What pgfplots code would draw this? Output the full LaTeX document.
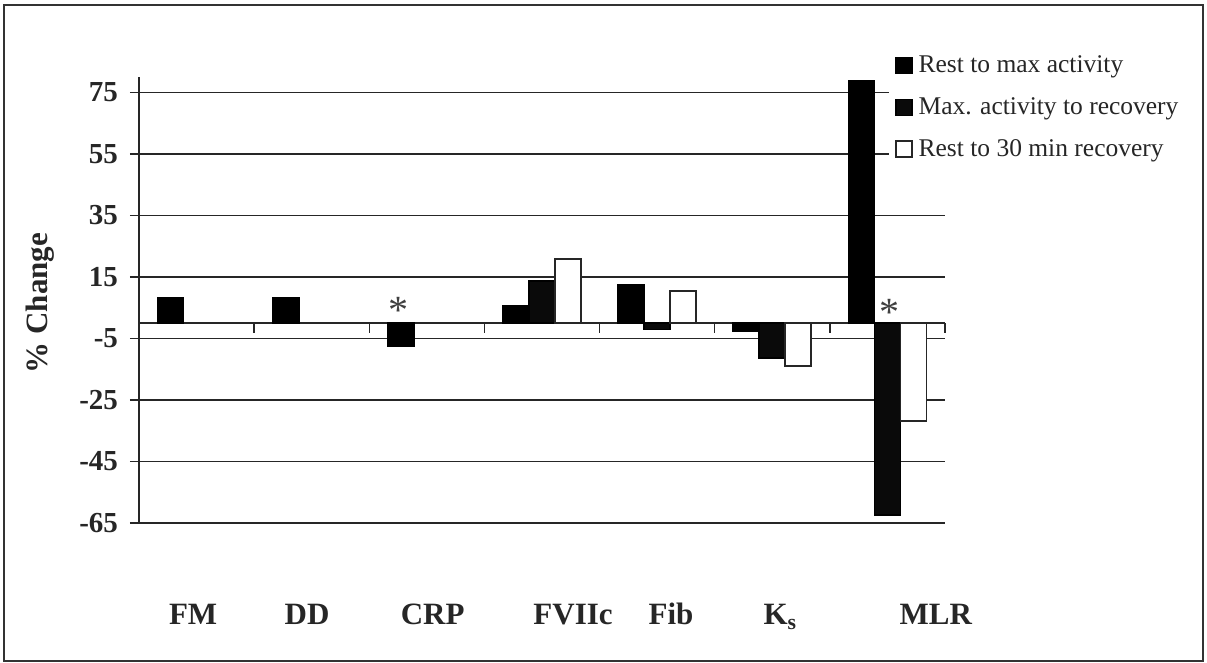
\documentclass[border=0pt]{standalone}
\usepackage{fontspec}
\setmainfont{Liberation Serif}
\usepackage{pgfplots}
\pgfplotsset{compat=1.18}

% per-parameter % change, three comparison windows
% categories: 0 FM, 1 DD, 2 CRP, 3 FVIIc, 4 Fib, 5 Ks, 6 MLR
\pgfplotstableread{
x   y
0   8.1
1   8.3
2  -7.5
3   5.6
4   12.3
5  -2.6
6   78.6
}\restmax
\pgfplotstableread{
x   y
3   13.7
4  -2.1
5  -11.4
6  -62.4
}\maxrec
\pgfplotstableread{
x   y
3   20.8
4   10.5
5  -13.9
6  -31.9
}\restrec

\begin{document}
\begin{tikzpicture}[x=1pt,y=1pt]
\useasboundingbox (0,0) rectangle (603.5,331.5);
\draw[line width=1pt, black!80] (2,1) rectangle (601.5,329);
\begin{axis}[
  at={(69.5pt,70pt)}, anchor=south west,
  scale only axis, width=403pt, height=223pt,
  xmin=-0.5, xmax=6.5, ymin=-65, ymax=80,
  axis x line=none, axis y line*=left,
  y axis line style={-, line width=0.8pt, black!85},
  ytick={-65,-45,...,75},
  ymajorgrids,
  grid style={line width=0.7pt, black!85},
  tick align=outside, major tick length=4.5pt,
  tick style={line width=0.7pt, black!85},
  /pgf/number format/assume math mode=true,
  yticklabel style={font=\fontsize{14.5}{16}\selectfont\bfseries, text=black!85, xshift=-2.5pt},
  ylabel={\% Change},
  every axis y label/.style={at={(rel axis cs:-0.1228,0.493)}, anchor=center, rotate=90,
    font=\fontsize{15.5}{18}\selectfont\bfseries, text=black!85},
  ybar=0pt, bar width=13pt,
  clip=false,
  legend style={at={(rel axis cs:0.9305,1.072)}, anchor=north west, draw=none, fill=white,
    font=\fontsize{12.75}{15}\selectfont, text=black!85, row sep=7pt, column sep=1pt,
    inner xsep=3pt, inner ysep=3pt},
  legend cell align=left,
  sqlegend/.style={legend image code/.code={\draw[##1, line width=0.6pt] (0pt,-4pt) rectangle (8pt,4pt);}},
]
% zero line with category separators
\draw[line width=0.8pt, black!85] (axis cs:-0.5,0) -- (axis cs:6.5,0);
\pgfplotsinvokeforeach{0.5,1.5,...,6.5}{
  \draw[line width=0.7pt, black!85] (axis cs:#1,0) -- ([yshift=-5pt]axis cs:#1,0);
}
\addplot[fill=black, draw=black, line width=0.8pt, sqlegend] table[x=x,y=y] {\restmax};
\addplot[fill=black!96, draw=black, line width=0.8pt, sqlegend] table[x=x,y=y] {\maxrec};
\addplot[fill=white, draw=black!85, line width=0.8pt, sqlegend] table[x=x,y=y] {\restrec};
\legend{Rest to max activity, Max. activity to recovery, Rest to 30 min recovery}

% significance markers
\node[anchor=base, font=\fontsize{20}{20}\selectfont, text=black!75] at (axis cs:1.75,0.0) {*};
\node[anchor=base, font=\fontsize{20}{20}\selectfont, text=black!75] at (axis cs:6.02,-0.7) {*};

% category names
\begin{scope}[every node/.style={anchor=base, font=\fontsize{15.5}{18}\selectfont\bfseries, text=black!85}]
\node at (axis cs:-0.03,-98.1) {FM};
\node at (axis cs:0.96,-98.1) {DD};
\node at (axis cs:2.05,-98.1) {CRP};
\node at (axis cs:3.27,-98.1) {FVIIc};
\node at (axis cs:4.12,-98.1) {Fib};
\node at (axis cs:5.07,-98.1) {K\textsubscript{s}};
\node at (axis cs:6.42,-98.1) {MLR};
\end{scope}
\end{axis}
\end{tikzpicture}
\end{document}
